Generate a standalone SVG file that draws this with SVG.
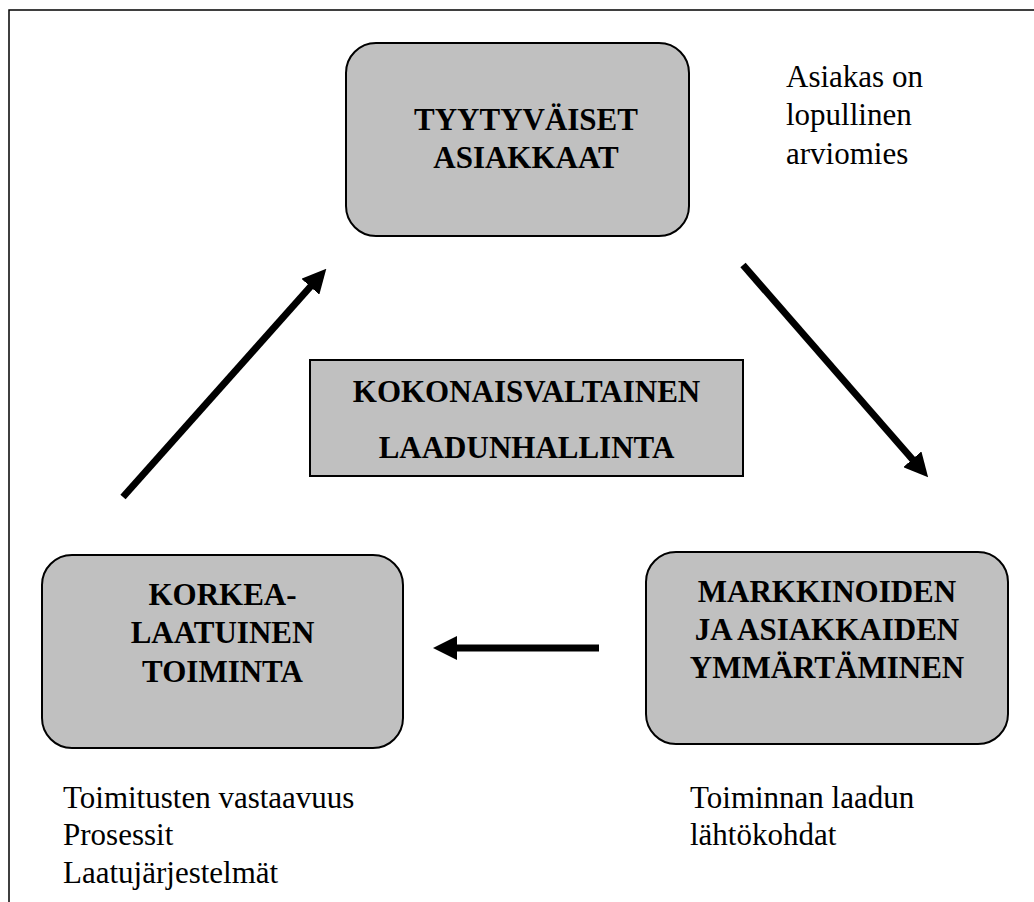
<svg xmlns="http://www.w3.org/2000/svg" width="1034" height="902" viewBox="0 0 1034 902">
  <style>
    .box { fill: #c0c0c0; stroke: #000; stroke-width: 2; }
    .title { font-weight: bold; font-size: 31px; fill: #000; text-anchor: middle; }
    .note { font-size: 31px; fill: #000; }
    .flow { stroke: #000; stroke-width: 7; fill: none; marker-end: url(#head); }
  </style>
  <defs>
    <marker id="head" markerUnits="userSpaceOnUse" viewBox="0 0 24 24" refX="1" refY="12" markerWidth="24" markerHeight="24" orient="auto">
      <path d="M0,0 L24,12 L0,24 Z" fill="#000"/>
    </marker>
  </defs>

  <rect width="1034" height="902" fill="#fff"/>
  <!-- outer frame -->
  <rect x="9" y="10" width="1040" height="910" fill="none" stroke="#000" stroke-width="1.5"/>

  <g font-family="Liberation Serif, DejaVu Serif, serif">
  <g id="tyytyvaiset-asiakkaat">
    <rect class="box" x="346" y="43" width="343" height="193" rx="30" ry="30"/>
    <text class="title" x="526" y="130">TYYTYVÄISET</text>
    <text class="title" x="526" y="168">ASIAKKAAT</text>
  </g>

  <g id="note-asiakas">
    <text class="note" x="786" y="87">Asiakas on</text>
    <text class="note" x="786" y="125">lopullinen</text>
    <text class="note" x="786" y="164">arviomies</text>
  </g>

  <g id="kokonaisvaltainen-laadunhallinta">
    <rect class="box" x="310" y="360" width="433" height="116"/>
    <text class="title" x="526.5" y="402">KOKONAISVALTAINEN</text>
    <text class="title" x="526.5" y="458">LAADUNHALLINTA</text>
  </g>

  <g id="markkinoiden-ymmartaminen">
    <rect class="box" x="646" y="552" width="362" height="192" rx="30" ry="30"/>
    <text class="title" x="827" y="602">MARKKINOIDEN</text>
    <text class="title" x="827" y="640">JA ASIAKKAIDEN</text>
    <text class="title" x="827" y="678">YMMÄRTÄMINEN</text>
  </g>

  <g id="korkealaatuinen-toiminta">
    <rect class="box" x="42" y="555" width="361" height="193" rx="30" ry="30"/>
    <text class="title" x="222.5" y="605">KORKEA-</text>
    <text class="title" x="222.5" y="643">LAATUINEN</text>
    <text class="title" x="222.5" y="682">TOIMINTA</text>
  </g>

  <g id="note-toiminta">
    <text class="note" x="63" y="808">Toimitusten vastaavuus</text>
    <text class="note" x="63" y="845">Prosessit</text>
    <text class="note" x="63" y="883">Laatujärjestelmät</text>
  </g>

  <g id="note-laatu">
    <text class="note" x="690" y="808">Toiminnan laadun</text>
    <text class="note" x="690" y="845">lähtökohdat</text>
  </g>
  </g>

  <g id="connectors">
    <line class="flow" x1="123" y1="497" x2="311" y2="286"/>
    <line class="flow" x1="743" y1="265" x2="913" y2="460"/>
    <line class="flow" x1="599" y1="648" x2="456" y2="648"/>
  </g>
</svg>
